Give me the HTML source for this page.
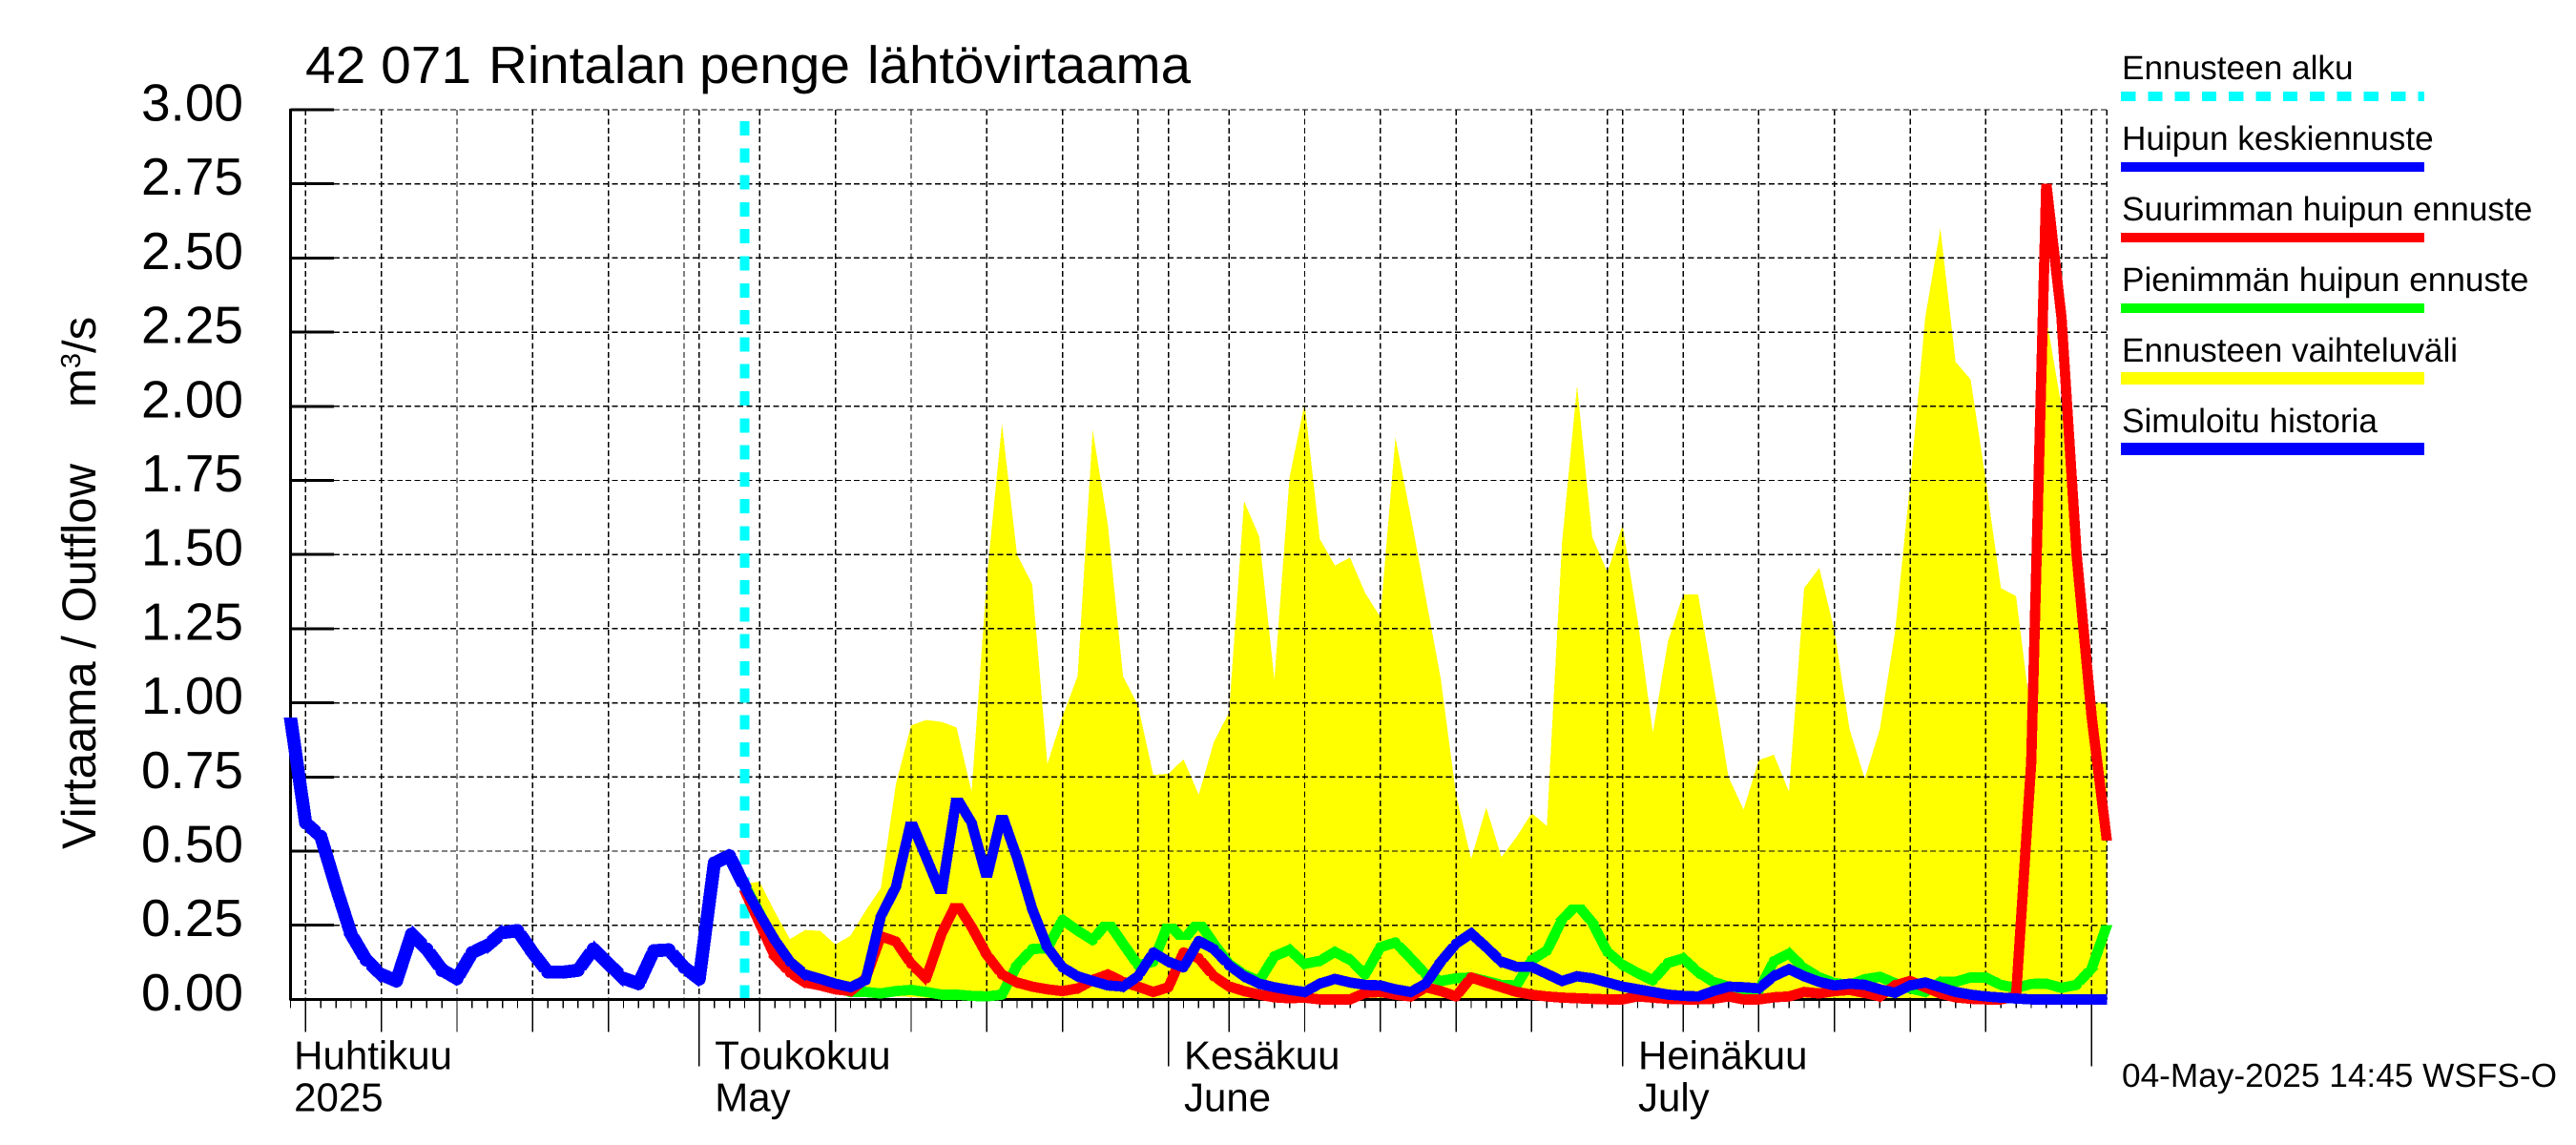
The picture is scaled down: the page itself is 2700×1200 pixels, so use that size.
<!DOCTYPE html>
<html lang="fi">
<head>
<meta charset="utf-8">
<title>42 071 Rintalan penge lähtövirtaama</title>
<style>
html,body{margin:0;padding:0;background:#fff;width:2700px;height:1200px;overflow:hidden}
svg{display:block}
text{font-family:"Liberation Sans",sans-serif;fill:#000;font-kerning:none;text-rendering:geometricPrecision}
.crisp{shape-rendering:crispEdges}
</style>
</head>
<body>
<svg id="chart" xmlns="http://www.w3.org/2000/svg" width="2700" height="1200" viewBox="0 0 2700 1200">
<rect x="0" y="0" width="2700" height="1200" fill="#fff"/>
<g id="band-layer"></g>
<g id="grid-layer"></g>
<g id="start-layer"></g>
<g id="axis-layer"></g>
<g id="line-layer"></g>
<g id="label-layer"></g>

<text y="87" font-size="55"><tspan x="320" textLength="174" lengthAdjust="spacingAndGlyphs">42 071</tspan> <tspan x="512" textLength="207" lengthAdjust="spacingAndGlyphs">Rintalan</tspan> <tspan x="733" textLength="158" lengthAdjust="spacingAndGlyphs">penge</tspan> <tspan x="909" textLength="339" lengthAdjust="spacingAndGlyphs">lähtövirtaama</tspan></text>
<text transform="translate(100,890) rotate(-90)" font-size="50" textLength="404" lengthAdjust="spacingAndGlyphs">Virtaama / Outflow</text>
<text transform="translate(100,427) rotate(-90)" font-size="49">m<tspan dy="-16" font-size="29">3</tspan><tspan dy="16">/s</tspan></text>

<g>
<text x="2224" y="83" font-size="35.2">Ennusteen alku</text>
<line class="crisp" x1="2223" y1="101" x2="2541" y2="101" stroke="#00ffff" stroke-width="10" stroke-dasharray="15.3 13"/>
<text x="2224" y="157" font-size="35.2">Huipun keskiennuste</text>
<rect class="crisp" x="2223" y="170" width="318" height="10" fill="#0000ff"/>
<text x="2224" y="231" font-size="35.2">Suurimman huipun ennuste</text>
<rect class="crisp" x="2223" y="244" width="318" height="10" fill="#ff0000"/>
<text x="2224" y="305" font-size="35.2">Pienimmän huipun ennuste</text>
<rect class="crisp" x="2223" y="318" width="318" height="10" fill="#00ff00"/>
<text x="2224" y="379" font-size="35.2">Ennusteen vaihteluväli</text>
<rect class="crisp" x="2223" y="390" width="318" height="13" fill="#ffff00"/>
<text x="2224" y="453" font-size="35.2">Simuloitu historia</text>
<rect class="crisp" x="2223" y="464" width="318" height="13" fill="#0000ff"/>
</g>

<text x="2224" y="1139" font-size="35" textLength="456" lengthAdjust="spacingAndGlyphs">04-May-2025 14:45 WSFS-O</text>
</svg>

<script>
// Day index 0 = 4 April 2025; history covers days 0-30, forecasts days 30-120.
const yTickValues = [0, 0.25, 0.5, 0.75, 1, 1.25, 1.5, 1.75, 2, 2.25, 2.5, 2.75, 3];
const yTickLabels = ["0.00", "0.25", "0.50", "0.75", "1.00", "1.25", "1.50", "1.75", "2.00", "2.25", "2.50", "2.75", "3.00"];
const totalDays = 120;
const forecastStartDay = 30;
const majorTickDays = [1, 6, 11, 16, 21, 31, 36, 41, 46, 51, 62, 67, 72, 77, 82, 92, 97, 102, 107, 112];
const monthTickDays = [27, 58, 88, 119];
const extraGridDays = [26, 56, 87, 117, 120];
const monthLabelDays = [0.2, 28, 59, 89];
const monthLabelsFi = ["Huhtikuu", "Toukokuu", "Kesäkuu", "Heinäkuu"];
const monthLabelsEn = ["2025", "May", "June", "July"];

const simulatedHistory = [
  0.95, 0.595, 0.55, 0.38, 0.22, 0.133, 0.084, 0.062, 0.22, 0.17,
  0.10, 0.07, 0.158, 0.182, 0.225, 0.232, 0.158, 0.092, 0.092, 0.098,
  0.17, 0.12, 0.071, 0.053, 0.164, 0.167, 0.108, 0.069, 0.46, 0.484, 0.38
];
const meanPeak = [
  0.38, 0.287, 0.20, 0.127, 0.084, 0.069, 0.053, 0.041, 0.065, 0.28,
  0.38, 0.60, 0.478, 0.355, 0.68, 0.595, 0.41, 0.623, 0.478, 0.305,
  0.176, 0.108, 0.078, 0.062, 0.047, 0.043, 0.078, 0.158, 0.127, 0.108,
  0.197, 0.17, 0.115, 0.078, 0.053, 0.041, 0.032, 0.025, 0.053, 0.069,
  0.057, 0.049, 0.047, 0.034, 0.025, 0.053, 0.127, 0.188, 0.222, 0.176,
  0.127, 0.11, 0.11, 0.086, 0.062, 0.078, 0.071, 0.057, 0.043, 0.034,
  0.025, 0.016, 0.012, 0.01, 0.028, 0.043, 0.041, 0.037, 0.078, 0.102,
  0.078, 0.059, 0.047, 0.053, 0.049, 0.034, 0.022, 0.047, 0.057, 0.041,
  0.025, 0.016, 0.01, 0.006, 0.003, 0, 0, 0, 0, 0, 0
];
const highestPeak = [
  0.367, 0.256, 0.145, 0.09, 0.057, 0.047, 0.034, 0.028, 0.071, 0.213,
  0.195, 0.12, 0.071, 0.22, 0.324, 0.244, 0.151, 0.084, 0.057, 0.043,
  0.034, 0.028, 0.037, 0.065, 0.084, 0.059, 0.043, 0.025, 0.041, 0.158,
  0.139, 0.078, 0.044, 0.028, 0.016, 0.007, 0.004, 0.006, 0, 0,
  0, 0.022, 0.025, 0.016, 0.01, 0.041, 0.028, 0.01, 0.074, 0.057,
  0.041, 0.025, 0.016, 0.01, 0.006, 0.004, 0.002, 0, 0, 0.01,
  0.006, 0.002, 0, 0, 0.002, 0.01, 0, 0, 0.007, 0.01,
  0.025, 0.02, 0.028, 0.032, 0.022, 0.01, 0.047, 0.062, 0.041, 0.02,
  0.007, 0.002, 0, 0, 0.01, 0.8, 2.75, 2.3, 1.5, 0.95, 0.535
];
const lowestPeak = [
  0.385, 0.29, 0.19, 0.11, 0.07, 0.06, 0.04, 0.025, 0.025, 0.02,
  0.028, 0.032, 0.025, 0.016, 0.016, 0.012, 0.01, 0.016, 0.115, 0.17,
  0.172, 0.268, 0.232, 0.2, 0.262, 0.188, 0.115, 0.127, 0.256, 0.2,
  0.262, 0.188, 0.12, 0.084, 0.062, 0.145, 0.167, 0.12, 0.13, 0.16,
  0.133, 0.084, 0.176, 0.192, 0.139, 0.084, 0.062, 0.071, 0.074, 0.062,
  0.049, 0.047, 0.133, 0.164, 0.268, 0.32, 0.259, 0.16, 0.117, 0.089,
  0.064, 0.123, 0.138, 0.092, 0.059, 0.043, 0.027, 0.03, 0.129, 0.154,
  0.105, 0.074, 0.055, 0.049, 0.068, 0.076, 0.055, 0.037, 0.025, 0.059,
  0.059, 0.074, 0.074, 0.049, 0.039, 0.052, 0.053, 0.039, 0.049, 0.105, 0.25
];
const rangeUpper = [
  0.39, 0.397, 0.295, 0.203, 0.234, 0.231, 0.185, 0.215, 0.30, 0.375,
  0.727, 0.924, 0.942, 0.936, 0.917, 0.70, 1.42, 1.94, 1.50, 1.40,
  0.794, 0.954, 1.09, 1.92, 1.60, 1.09, 0.99, 0.757, 0.761, 0.81,
  0.69, 0.868, 0.967, 1.68, 1.56, 1.078, 1.76, 2.01, 1.553, 1.463,
  1.49, 1.37, 1.29, 1.895, 1.633, 1.355, 1.08, 0.69, 0.474, 0.647,
  0.48, 0.548, 0.628, 0.585, 1.54, 2.07, 1.56, 1.44, 1.6, 1.28,
  0.90, 1.207, 1.365, 1.365, 1.07, 0.75, 0.64, 0.807, 0.825, 0.70,
  1.387, 1.455, 1.244, 0.911, 0.745, 0.911, 1.238, 1.74, 2.30, 2.60,
  2.15, 2.09, 1.75, 1.387, 1.36, 0.95, 2.3, 2.0, 1.5, 1.0, 1.0
];
const rangeLower = [
  0.367, 0.256, 0.145, 0.09, 0.057, 0.047, 0.034, 0.028, 0.02, 0.01,
  0.01, 0.008, 0.005, 0.004, 0.003, 0.003, 0.002, 0.002, 0.002, 0.002,
  0.002, 0.002, 0.002, 0.002, 0.002, 0.002, 0.001, 0, 0, 0,
  0, 0, 0, 0, 0, 0, 0, 0, 0, 0,
  0, 0, 0, 0, 0, 0, 0, 0, 0, 0,
  0, 0, 0, 0, 0, 0, 0, 0, 0, 0,
  0, 0, 0, 0, 0, 0, 0, 0, 0, 0,
  0, 0, 0, 0, 0, 0, 0, 0, 0, 0,
  0, 0, 0, 0, 0, 0, 0, 0, 0, 0, 0
];

const SVG_NS = "http://www.w3.org/2000/svg";
const plot = { left: 304.5, right: 2208.3, top: 115, bottom: 1047.4, yMax: 3 };
function xScale(day) {
  return plot.left + (plot.right - plot.left) * day / totalDays;
}
function yScale(value) {
  return plot.bottom - (plot.bottom - plot.top) * value / plot.yMax;
}
function make(tag, parent, props) {
  const el = document.createElementNS(SVG_NS, tag);
  for (const k in props) el.setAttribute(k, props[k]);
  parent.appendChild(el);
  return el;
}
function pointsFor(values, firstDay) {
  return values.map(function (v, i) {
    return xScale(firstDay + i).toFixed(1) + "," + yScale(v).toFixed(1);
  });
}

const bandLayer = document.getElementById("band-layer");
const gridLayer = document.getElementById("grid-layer");
const startLayer = document.getElementById("start-layer");
const axisLayer = document.getElementById("axis-layer");
const lineLayer = document.getElementById("line-layer");
const labelLayer = document.getElementById("label-layer");

// forecast range band
const upperPts = pointsFor(rangeUpper, forecastStartDay);
const lowerPts = pointsFor(rangeLower, forecastStartDay).reverse();
const bandEl = make("polygon", bandLayer, { points: upperPts.concat(lowerPts).join(" "), fill: "#ffff00", "class": "crisp" });



// horizontal grid lines and y ticks
yTickValues.forEach(function (v, i) {
  const y = yScale(v);
  if (v > 0) {
    const g = make("line", gridLayer, { x1: 350, y1: y, x2: plot.right, y2: y, stroke: "#000", "stroke-width": 1.4, "stroke-dasharray": "6 3.4", "class": "crisp" });
    
    
  }
  const t = make("line", axisLayer, { x1: plot.left, y1: y, x2: 350, y2: y, stroke: "#000", "stroke-width": 3, "class": "crisp" });
  
  
  const lab = make("text", labelLayer, { x: 255, y: y + 11.5, "text-anchor": "end", "font-size": 55 });
  lab.textContent = yTickLabels[i];
  
  
});

// vertical grid lines
majorTickDays.concat(monthTickDays, extraGridDays).forEach(function (d) {
  const x = xScale(d);
  const g = make("line", gridLayer, { x1: x, y1: plot.top, x2: x, y2: plot.bottom, stroke: "#000", "stroke-width": 1.4, "stroke-dasharray": "6 3.4", "class": "crisp" });
  
  
});

// x ticks
for (let d = 0; d <= totalDays - 1; d++) {
  const x = xScale(d);
  let end = 1056.7;
  if (majorTickDays.indexOf(d) >= 0) end = 1081.7;
  if (monthTickDays.indexOf(d) >= 0) end = 1117.7;
  const t = make("line", axisLayer, { x1: x, y1: plot.bottom, x2: x, y2: end, stroke: "#000", "stroke-width": 1.4, "class": "crisp" });
  
  
}

// axes
const yAxisLine = make("line", axisLayer, { x1: plot.left, y1: plot.top - 1, x2: plot.left, y2: plot.bottom + 1, stroke: "#000", "stroke-width": 3, "class": "crisp" });


const xAxisLine = make("line", axisLayer, { x1: plot.left, y1: plot.bottom, x2: plot.right, y2: plot.bottom, stroke: "#000", "stroke-width": 3, "class": "crisp" });



// forecast start marker
const startX = xScale(forecastStartDay);
const startLine = make("line", startLayer, { x1: startX, y1: 127, x2: startX, y2: plot.bottom + 0.5, stroke: "#00ffff", "stroke-width": 10, "stroke-dasharray": "15 13.3", "class": "crisp" });



// series: each segment is a parallelogram of the given thickness, cut vertically
// on shallow segments and horizontally on steep ones. All subpaths are clockwise
// so overlaps never cancel; joints between shallow and steep segments get a filler disc.
function segmentPath(values, firstDay, thick) {
  let d = "";
  let prevSteep = null;
  for (let i = 0; i < values.length - 1; i++) {
    const x1 = xScale(firstDay + i), y1 = yScale(values[i]);
    const x2 = xScale(firstDay + i + 1), y2 = yScale(values[i + 1]);
    const dx = Math.abs(x2 - x1), dy = Math.abs(y2 - y1);
    const len = Math.sqrt(dx * dx + dy * dy);
    const steep = dy > dx;
    let quad;
    if (!steep) {
      const w = thick * len / dx / 2;
      quad = [[x1, y1 - w], [x2, y2 - w], [x2, y2 + w], [x1, y1 + w]];
    } else {
      const w = thick * len / dy / 2;
      quad = y2 > y1
        ? [[x1 + w, y1], [x2 + w, y2], [x2 - w, y2], [x1 - w, y1]]
        : [[x1 - w, y1], [x2 - w, y2], [x2 + w, y2], [x1 + w, y1]];
    }
    d += "M" + quad.map(function (p) { return p[0].toFixed(1) + " " + p[1].toFixed(1); }).join("L") + "Z";
    if (prevSteep !== null && prevSteep !== steep) {
      const r = thick / 2;
      d += "M" + (x1 - r).toFixed(1) + " " + y1.toFixed(1) +
           "A" + r + " " + r + " 0 1 1 " + (x1 + r).toFixed(1) + " " + y1.toFixed(1) +
           "A" + r + " " + r + " 0 1 1 " + (x1 - r).toFixed(1) + " " + y1.toFixed(1) + "Z";
    }
    prevSteep = steep;
  }
  return d;
}
function drawSeries(values, firstDay, color, thick) {
  return make("path", lineLayer, { d: segmentPath(values, firstDay, thick), fill: color, "fill-rule": "nonzero", "class": "crisp" });
}
const lowEl = drawSeries(lowestPeak, forecastStartDay, "#00ff00", 10.8);


const highEl = drawSeries(highestPeak, forecastStartDay, "#ff0000", 10.8);


const meanEl = drawSeries(meanPeak, forecastStartDay, "#0000ff", 10.8);


const histEl = drawSeries(simulatedHistory, 0, "#0000ff", 13.8);



// month labels
monthLabelDays.forEach(function (d, i) {
  const x = xScale(d) + 0.5;
  const a = make("text", labelLayer, { x: x, y: 1120.5, "font-size": 42 });
  a.textContent = monthLabelsFi[i];
  
  
  const b = make("text", labelLayer, { x: x, y: 1164.5, "font-size": 42 });
  b.textContent = monthLabelsEn[i];
  
  
});
</script>
</body>
</html>
